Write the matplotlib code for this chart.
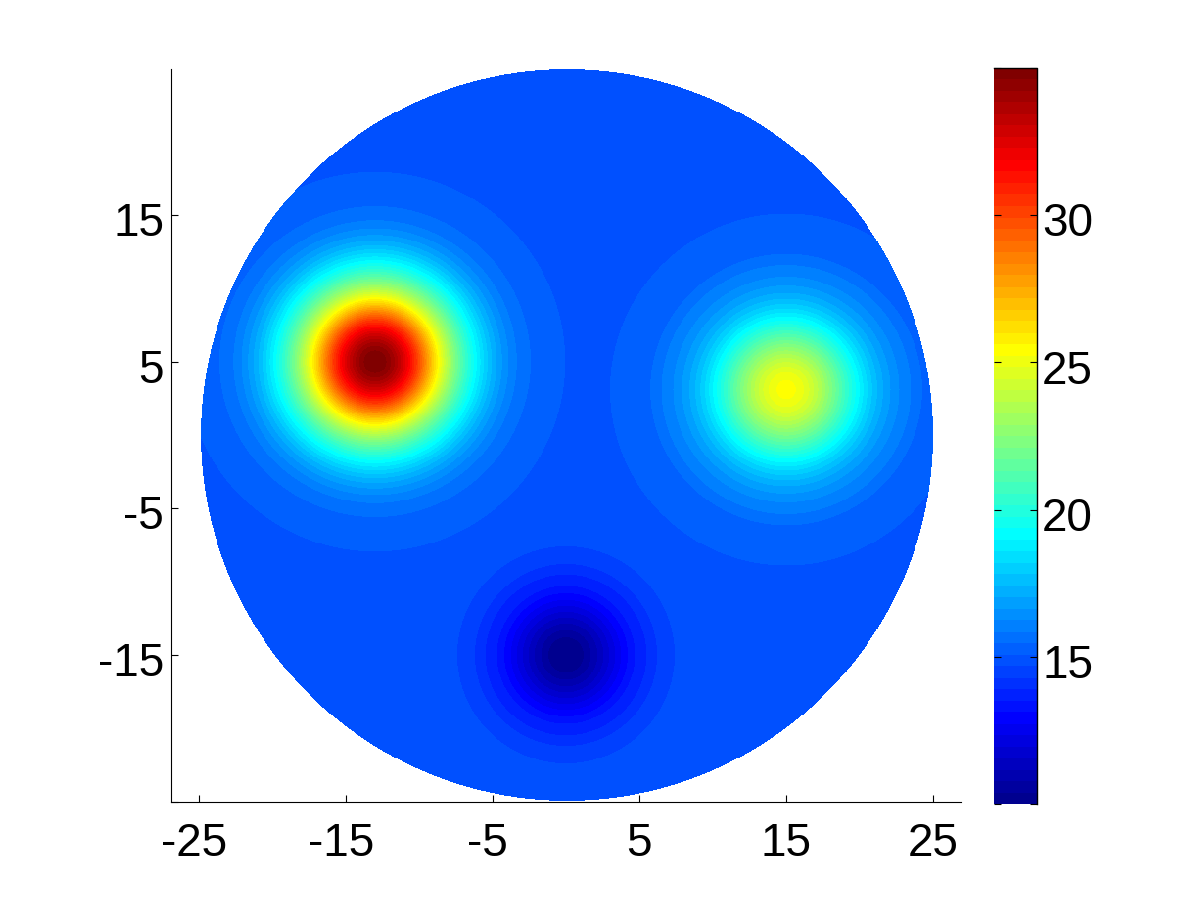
import numpy as np
import matplotlib
matplotlib.use('Agg')
import matplotlib.pyplot as plt
from matplotlib.colors import ListedColormap, Normalize
from matplotlib.transforms import ScaledTranslation

plt.rcParams['font.family'] = ['Liberation Sans', 'DejaVu Sans']

background = 14.9
disk_center = (0.07, 0)
disk_radius = 24.93

hot_center = (-13, 5)
hot_radii = [12.95, 10.6, 9.65, 9.1, 8.65, 8.28, 7.95, 7.67, 7.41, 7.17, 6.93, 6.72, 6.52,
             6.33, 6.15, 5.98, 5.81, 5.65, 5.49, 5.34, 5.19, 5.05, 4.91, 4.77, 4.64, 4.51,
             4.38, 4.26, 4.14, 4.02, 3.90, 3.78, 3.67, 3.55, 3.44, 3.32, 3.20, 3.08, 2.96,
             2.84, 2.70, 2.56, 2.41, 2.26, 2.10, 1.94, 1.76, 1.56, 1.35, 1.09, 0.77]
hot_values = [15.27, 15.66, 16.05, 16.45, 16.84, 17.23, 17.62, 18.01, 18.40, 18.79, 19.18, 19.57, 19.96,
              20.35, 20.74, 21.13, 21.52, 21.91, 22.30, 22.70, 23.09, 23.48, 23.87, 24.26, 24.65, 25.04,
              25.43, 25.82, 26.21, 26.60, 26.99, 27.38, 27.77, 28.16, 28.55, 28.95, 29.34, 29.73, 30.12,
              30.51, 30.90, 31.29, 31.68, 32.07, 32.46, 32.85, 33.24, 33.63, 34.02, 34.41, 34.80]

warm_center = (15, 3.1)
warm_radii = [12.0, 9.26, 8.5, 7.7, 7.1, 6.6, 6.2, 5.85, 5.53, 5.25, 4.99, 4.73, 4.49, 4.26,
              4.03, 3.81, 3.59, 3.37, 3.14, 2.91, 2.67, 2.43, 2.17, 1.89, 1.57, 1.20, 0.65]
warm_values = [15.27, 15.66, 16.05, 16.45, 16.84, 17.23, 17.62, 18.01, 18.40, 18.79, 19.18, 19.57, 19.96, 20.35,
               20.74, 21.13, 21.52, 21.91, 22.30, 22.70, 23.09, 23.48, 23.87, 24.26, 24.65, 25.04, 25.43]

cold_center = (0, -15)
cold_radii = [7.4, 6.2, 5.48, 4.7, 4.2, 3.75, 3.35, 2.95, 2.55, 2.15, 1.7, 1.2]
cold_values = [14.49, 14.10, 13.71, 13.32, 12.93, 12.54, 12.15, 11.76, 11.37, 10.98, 10.59, 10.20]

xticks = [-25, -15, -5, 5, 15, 25]
xticklabels = ['-25', '-15', '-5', '5', '15', '25']
yticks = [-25, -15, -5, 5, 15]
yticklabels = ['', '-15', '-5', '5', '15']
cbticks = [10, 15, 20, 25, 30, 35]
cbticklabels = ['', '15', '20', '25', '30', '']

# matlab style jet with 64 entries
ramp = np.r_[np.arange(1, 17) / 16, np.ones(15), np.arange(16, 0, -1) / 16]
rgb = np.zeros((64, 3))
rgb[24:64, 0] = ramp[:40]
rgb[8:55, 1] = ramp
rgb[0:39, 2] = ramp[8:]
jet64 = ListedColormap(rgb)

xs = np.linspace(-25, 25, 751)
ys = np.linspace(-25, 25, 751)
xc = (xs[:-1] + xs[1:]) / 2
yc = (ys[:-1] + ys[1:]) / 2
X, Y = np.meshgrid(xc, yc)
Z = np.full(X.shape, background)
for center, radii, values in [(hot_center, hot_radii, hot_values),
                              (warm_center, warm_radii, warm_values),
                              (cold_center, cold_radii, cold_values)]:
    dist = np.hypot(X - center[0], Y - center[1])
    for radius, value in zip(radii, values):
        Z[dist < radius] = value
Z = np.ma.masked_where(np.hypot(X - disk_center[0], Y - disk_center[1]) > disk_radius, Z)

fig = plt.figure(figsize=(12, 9), dpi=100)
ax = fig.add_axes([171 / 1200, 98.5 / 900, 790 / 1200, 733 / 900])
mesh = ax.pcolormesh(xs, ys, Z, cmap=jet64, norm=Normalize(10, 35), shading='flat')
ax.set_xlim(-26.9, 26.9)
ax.set_ylim(-25, 25)
ax.spines['top'].set_visible(False)
ax.spines['right'].set_visible(False)
ax.spines['left'].set_linewidth(0.8)
ax.spines['bottom'].set_linewidth(0.8)
ax.set_xticks(xticks)
ax.set_xticklabels(xticklabels)
ax.set_yticks(yticks)
ax.set_yticklabels(yticklabels)
ax.tick_params(direction='in', length=5, width=0.8, labelsize=33)
ax.tick_params(axis='x', pad=15)
ax.tick_params(axis='y', pad=5)

cax = fig.add_axes([994 / 1200, 96 / 900, 42.5 / 1200, 736 / 900])
cb = fig.colorbar(mesh, cax=cax)
cb.outline.set_visible(False)
cb.set_ticks(cbticks)
cb.set_ticklabels(cbticklabels)
cax.tick_params(left=True, right=True, direction='in', length=5, width=0.8, labelsize=33, pad=4)
cax.plot([0, 1, 1], [1, 1, 0], transform=cax.transAxes, color='k', lw=1.0, clip_on=False)

# labels sit a little below their ticks, negative ones a little to the left
shift = ScaledTranslation(0, -3 / 72, fig.dpi_scale_trans)
for lab in ax.get_yticklabels() + cax.get_yticklabels():
    lab.set_transform(lab.get_transform() + shift)
left = ScaledTranslation(-3.5 / 72, 0, fig.dpi_scale_trans)
for lab in ax.get_xticklabels():
    if lab.get_text().startswith('-'):
        lab.set_transform(lab.get_transform() + left)

plt.savefig('out.png', dpi=100)
